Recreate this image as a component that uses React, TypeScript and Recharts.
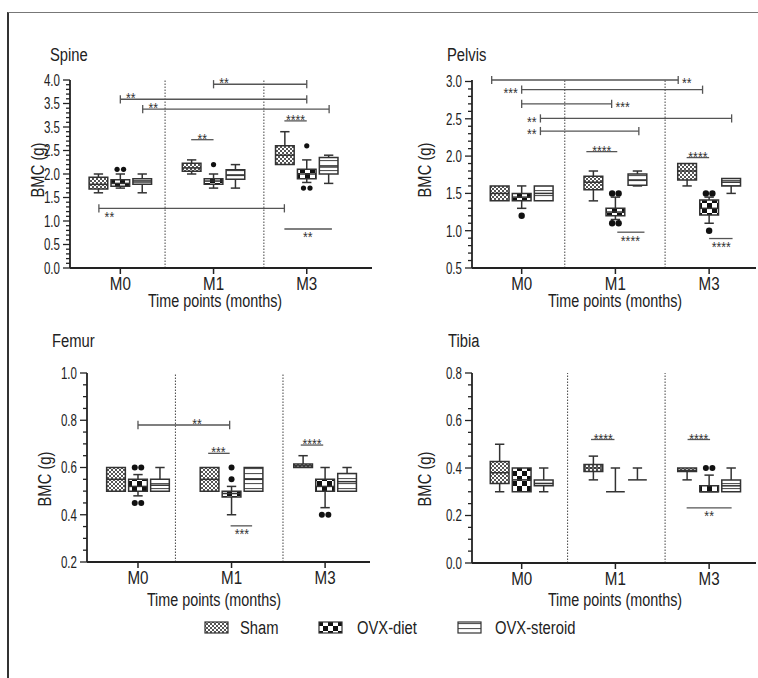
import React from 'react';
import { ComposedChart, XAxis, YAxis, ReferenceArea, ReferenceLine, Scatter } from 'recharts';

const FONT = "'Liberation Sans', Arimo, Arial, sans-serif";
const SX = 0.82; // narrow the glyphs like a condensed face
const INK = '#222';

const timePoints = ['M0', 'M1', 'M3'];
const groups = ['Sham', 'OVX-diet', 'OVX-steroid'];
const patterns = ['url(#pat-sham)', 'url(#pat-diet)', 'url(#pat-steroid)'];

// box stats per time point: [min, q1, median, q3, max]
const spineSham = [[1.6, 1.68, 1.78, 1.93, 2.0], [2.0, 2.06, 2.13, 2.23, 2.3], [2.2, 2.2, 2.4, 2.6, 2.9]];
const spineDiet = [[1.7, 1.74, 1.8, 1.88, 2.0], [1.7, 1.78, 1.85, 1.9, 2.0], [1.82, 1.9, 2.0, 2.1, 2.3]];
const spineSteroid = [[1.6, 1.78, 1.83, 1.9, 2.0], [1.7, 1.89, 1.98, 2.09, 2.2], [1.8, 2.0, 2.15, 2.35, 2.4]];
const spineDietOutliers = [[2.1, 2.1], [2.2], [2.6, 1.7, 1.7]];

const pelvisSham = [[1.4, 1.4, 1.5, 1.6, 1.6], [1.4, 1.55, 1.65, 1.73, 1.8], [1.6, 1.68, 1.8, 1.9, 1.9]];
const pelvisDiet = [[1.3, 1.4, 1.45, 1.5, 1.6], [1.15, 1.2, 1.25, 1.3, 1.45], [1.1, 1.21, 1.3, 1.41, 1.45]];
const pelvisSteroid = [[1.4, 1.4, 1.5, 1.6, 1.6], [1.6, 1.61, 1.68, 1.76, 1.8], [1.5, 1.6, 1.65, 1.7, 1.7]];
const pelvisDietOutliers = [[1.2], [1.5, 1.5, 1.1, 1.1], [1.5, 1.5, 1.0]];

const femurSham = [[0.5, 0.5, 0.55, 0.6, 0.6], [0.5, 0.5, 0.55, 0.6, 0.6], [0.6, 0.6, 0.607, 0.615, 0.65]];
const femurDiet = [[0.48, 0.5, 0.52, 0.55, 0.57], [0.4, 0.475, 0.49, 0.5, 0.52], [0.43, 0.5, 0.52, 0.55, 0.6]];
const femurSteroid = [[0.5, 0.5, 0.525, 0.55, 0.6], [0.5, 0.5, 0.55, 0.6, 0.6], [0.5, 0.5, 0.54, 0.575, 0.6]];
const femurDietOutliers = [[0.6, 0.6, 0.45, 0.45], [0.6, 0.55], [0.4, 0.4]];

const tibiaSham = [[0.3, 0.335, 0.38, 0.427, 0.5], [0.35, 0.385, 0.4, 0.415, 0.45], [0.35, 0.385, 0.39, 0.4, 0.4]];
const tibiaDiet = [[0.3, 0.3, 0.35, 0.4, 0.4], [0.3, 0.3, 0.3, 0.3, 0.4], [0.3, 0.3, 0.3, 0.325, 0.37]];
const tibiaSteroid = [[0.3, 0.325, 0.335, 0.35, 0.4], [0.35, 0.35, 0.35, 0.35, 0.4], [0.3, 0.3, 0.325, 0.35, 0.4]];
const tibiaDietOutliers = [[], [], [0.4, 0.4]];

const none = [[], [], []];

// y axis labels (the spine axis prints 3.0 as "3.5" in the original)
const spineMajors = [0, 0.5, 1, 1.5, 2, 2.5, 3, 3.5, 4];
const spineLabels = ['0.0', '0.5', '1.0', '1.5', '2.0', '2.5', '3.5', '3.5', '4.0'];
const pelvisMajors = [0.5, 1, 1.5, 2, 2.5, 3];
const pelvisLabels = ['0.5', '1.0', '1.5', '2.0', '2.5', '3.0'];
const femurMajors = [0.2, 0.4, 0.6, 0.8, 1.0];
const femurLabels = ['0.2', '0.4', '0.6', '0.8', '1.0'];
const tibiaMajors = [0, 0.2, 0.4, 0.6, 0.8];
const tibiaLabels = ['0.0', '0.2', '0.4', '0.6', '0.8'];

type Bracket = { x1: number; x2: number; y: number; ends: boolean; text: string; lx: number; align: 'start' | 'middle' | 'end'; v: 'above' | 'below' | 'middle' };

const spineBrackets: Bracket[] = [
  { x1: 1.0, x2: 2.0, y: 3.91, ends: true, text: '**', lx: 1.04, align: 'start', v: 'above' },
  { x1: 0, x2: 2.0, y: 3.59, ends: true, text: '**', lx: 0.04, align: 'start', v: 'above' },
  { x1: 0.24, x2: 2.24, y: 3.38, ends: true, text: '**', lx: 0.28, align: 'start', v: 'above' },
  { x1: 1.76, x2: 2.0, y: 3.13, ends: false, text: '****', lx: 1.88, align: 'middle', v: 'above' },
  { x1: 0.76, x2: 1.0, y: 2.73, ends: false, text: '**', lx: 0.88, align: 'middle', v: 'above' },
  { x1: -0.23, x2: 1.76, y: 1.27, ends: true, text: '**', lx: -0.19, align: 'start', v: 'below' },
  { x1: 1.76, x2: 2.27, y: 0.83, ends: false, text: '**', lx: 2.01, align: 'middle', v: 'below' },
];
const pelvisBrackets: Bracket[] = [
  { x1: -0.32, x2: 1.67, y: 3.02, ends: true, text: '**', lx: 1.69, align: 'start', v: 'middle' },
  { x1: 0, x2: 1.93, y: 2.89, ends: true, text: '***', lx: -0.02, align: 'end', v: 'middle' },
  { x1: 0, x2: 0.96, y: 2.7, ends: true, text: '***', lx: 0.98, align: 'start', v: 'middle' },
  { x1: 0.2, x2: 2.24, y: 2.505, ends: true, text: '**', lx: 0.18, align: 'end', v: 'middle' },
  { x1: 0.2, x2: 1.25, y: 2.336, ends: true, text: '**', lx: 0.18, align: 'end', v: 'middle' },
  { x1: 0.69, x2: 1.02, y: 2.06, ends: false, text: '****', lx: 0.855, align: 'middle', v: 'above' },
  { x1: 1.02, x2: 1.31, y: 0.98, ends: false, text: '****', lx: 1.16, align: 'middle', v: 'below' },
  { x1: 1.76, x2: 2.0, y: 1.98, ends: false, text: '****', lx: 1.88, align: 'middle', v: 'above' },
  { x1: 2.0, x2: 2.25, y: 0.895, ends: false, text: '****', lx: 2.13, align: 'middle', v: 'below' },
];
const femurBrackets: Bracket[] = [
  { x1: 0, x2: 0.98, y: 0.78, ends: true, text: '**', lx: 0.63, align: 'middle', v: 'above' },
  { x1: 0.75, x2: 0.98, y: 0.66, ends: false, text: '***', lx: 0.86, align: 'middle', v: 'above' },
  { x1: 0.99, x2: 1.22, y: 0.353, ends: false, text: '***', lx: 1.11, align: 'middle', v: 'below' },
  { x1: 1.74, x2: 1.98, y: 0.695, ends: false, text: '****', lx: 1.86, align: 'middle', v: 'above' },
];
const tibiaBrackets: Bracket[] = [
  { x1: 0.74, x2: 0.99, y: 0.52, ends: false, text: '****', lx: 0.87, align: 'middle', v: 'above' },
  { x1: 1.77, x2: 2.01, y: 0.52, ends: false, text: '****', lx: 1.89, align: 'middle', v: 'above' },
  { x1: 1.76, x2: 2.24, y: 0.232, ends: false, text: '**', lx: 2.0, align: 'middle', v: 'below' },
];

const spineSeps = [0.48, 1.54];
const pelvisSeps = [0.46, 1.53];
const femurSeps = [0.4, 1.55];
const tibiaSeps = [0.49, 1.53];

// box offsets inside a time point group
const OFF = [-0.235, 0, 0.235];
const HALF = 0.1;
const CAP = 0.05;

const makeTicks = (lo: number, hi: number, step: number) => {
  const n = Math.round((hi - lo) / step);
  return Array.from({ length: n + 1 }, (_, i) => +(lo + i * step).toFixed(3));
};

const panels = [
  {
    title: 'Spine', plot: { left: 70, right: 372, top: 80, bottom: 268 }, xDomain: [-0.54, 2.7], yDomain: [0, 4],
    majors: spineMajors, labels: spineLabels, minor: 0.1, boxes: [spineSham, spineDiet, spineSteroid],
    outliers: [none, spineDietOutliers, none], brackets: spineBrackets, seps: spineSeps,
    titleAt: [50, 61], yTitleAt: [38, 170], xTitleAt: [215, 308], dotR: 2.6,
  },
  {
    title: 'Pelvis', plot: { left: 472, right: 756, top: 80, bottom: 268 }, xDomain: [-0.53, 2.5], yDomain: [0.5, 3],
    majors: pelvisMajors, labels: pelvisLabels, minor: 0.1, boxes: [pelvisSham, pelvisDiet, pelvisSteroid],
    outliers: [none, pelvisDietOutliers, none], brackets: pelvisBrackets, seps: pelvisSeps,
    titleAt: [447, 61], yTitleAt: [425, 170], xTitleAt: [615, 308], dotR: 3.2,
  },
  {
    title: 'Femur', plot: { left: 87, right: 370, top: 373, bottom: 562 }, xDomain: [-0.545, 2.48], yDomain: [0.2, 1],
    majors: femurMajors, labels: femurLabels, minor: 0.05, boxes: [femurSham, femurDiet, femurSteroid],
    outliers: [none, femurDietOutliers, none], brackets: femurBrackets, seps: femurSeps,
    titleAt: [52, 347], yTitleAt: [45, 479], xTitleAt: [214, 607], dotR: 3,
  },
  {
    title: 'Tibia', plot: { left: 472, right: 756, top: 373, bottom: 563 }, xDomain: [-0.53, 2.5], yDomain: [0, 0.8],
    majors: tibiaMajors, labels: tibiaLabels, minor: 0.05, boxes: [tibiaSham, tibiaDiet, tibiaSteroid],
    outliers: [none, tibiaDietOutliers, none], brackets: tibiaBrackets, seps: tibiaSeps,
    titleAt: [448, 347], yTitleAt: [425, 479], xTitleAt: [615, 607], dotR: 3,
  },
];

function Patterns() {
  return (
    <svg width={0} height={0} style={{ position: 'absolute' }}>
      <defs>
        <pattern id="pat-sham" width={4} height={4} patternUnits="userSpaceOnUse">
          <rect width={4} height={4} fill="#fff" />
          <rect width={2} height={2} fill="#555" />
          <rect x={2} y={2} width={2} height={2} fill="#555" />
        </pattern>
        <pattern id="pat-diet" width={10} height={10} patternUnits="userSpaceOnUse">
          <rect width={10} height={10} fill="#fff" />
          <rect width={5} height={5} fill="#111" />
          <rect x={5} y={5} width={5} height={5} fill="#111" />
        </pattern>
        <pattern id="pat-steroid" width={5} height={5} patternUnits="userSpaceOnUse">
          <rect width={5} height={5} fill="#fff" />
          <rect y={2} width={5} height={1.1} fill="#555" />
        </pattern>
      </defs>
    </svg>
  );
}

// condensed svg text
function NText({ x, y, anchor, size, fill, dy, sx = SX, children }: any) {
  return (
    <text transform={`translate(${x},${y}) scale(${sx},1)`} textAnchor={anchor} dy={dy} fontSize={size} fill={fill} style={{ fill }} fontFamily={FONT}>
      {children}
    </text>
  );
}

function HText({ x, baseline, size, text, center }: { x: number; baseline: number; size: number; text: string; center?: boolean }) {
  return (
    <div style={{
      position: 'absolute', left: center ? x - 150 : x, top: baseline - 0.86 * size, width: center ? 300 : undefined,
      textAlign: center ? 'center' : 'left', fontSize: size, lineHeight: `${size}px`, fontFamily: FONT, color: INK, whiteSpace: 'nowrap',
      transform: `scaleX(${SX})`, transformOrigin: center ? 'center' : 'left',
    }}>{text}</div>
  );
}

function VText({ cx, cy, size, text }: { cx: number; cy: number; size: number; text: string }) {
  return (
    <div style={{
      position: 'absolute', left: cx - 60, top: cy - size / 2, width: 120, height: size, textAlign: 'center',
      fontSize: size, lineHeight: `${size}px`, fontFamily: FONT, color: INK, transform: `rotate(-90deg) scaleX(${SX})`, whiteSpace: 'nowrap',
    }}>{text}</div>
  );
}

function Panel({ cfg }: { cfg: any }) {
  const { plot, xDomain, yDomain, majors, labels, minor, boxes, outliers, brackets, seps, dotR } = cfg;
  const width = plot.right - plot.left + 62;
  const height = plot.bottom - plot.top + 52;
  const endH = (yDomain[1] - yDomain[0]) * 0.022;
  const yTicks = makeTicks(yDomain[0], yDomain[1], minor);
  const boxLine = { stroke: '#333', strokeWidth: 1.5, ifOverflow: 'visible' as const };
  const brLine = { stroke: '#555', strokeWidth: 1.3, ifOverflow: 'visible' as const };

  const els: React.ReactNode[] = [];
  boxes.forEach((series: number[][], g: number) => series.forEach(([mn, q1, md, q3, mx], t) => {
    const cx = t + OFF[g];
    const k = `b${g}-${t}`;
    if (mn < q1) {
      els.push(<ReferenceLine key={k + 'wl'} segment={[{ x: cx, y: mn }, { x: cx, y: q1 }]} {...boxLine} />);
      els.push(<ReferenceLine key={k + 'cl'} segment={[{ x: cx - CAP, y: mn }, { x: cx + CAP, y: mn }]} {...boxLine} />);
    }
    if (mx > q3) {
      els.push(<ReferenceLine key={k + 'wh'} segment={[{ x: cx, y: q3 }, { x: cx, y: mx }]} {...boxLine} />);
      els.push(<ReferenceLine key={k + 'ch'} segment={[{ x: cx - CAP, y: mx }, { x: cx + CAP, y: mx }]} {...boxLine} />);
    }
    if (q3 > q1) {
      els.push(<ReferenceArea key={k + 'box'} x1={cx - HALF} x2={cx + HALF} y1={q1} y2={q3} fill={patterns[g]} fillOpacity={1} {...boxLine} />);
    }
    els.push(<ReferenceLine key={k + 'md'} segment={[{ x: cx - HALF, y: md }, { x: cx + HALF, y: md }]} {...boxLine} />);
  }));

  brackets.forEach((b: Bracket, i: number) => {
    els.push(<ReferenceLine key={`s${i}`} segment={[{ x: b.x1, y: b.y }, { x: b.x2, y: b.y }]} {...brLine} />);
    if (b.ends) {
      els.push(<ReferenceLine key={`s${i}l`} segment={[{ x: b.x1, y: b.y - endH }, { x: b.x1, y: b.y + endH }]} {...brLine} />);
      els.push(<ReferenceLine key={`s${i}r`} segment={[{ x: b.x2, y: b.y - endH }, { x: b.x2, y: b.y + endH }]} {...brLine} />);
    }
  });

  const dots: any[] = [];
  outliers.forEach((series: number[][], g: number) => series.forEach((vals, t) => {
    const seen: Record<string, number> = {};
    vals.forEach((v) => {
      const n = vals.filter((w) => w === v).length;
      const k = (seen[v] = (seen[v] ?? -1) + 1);
      dots.push({ x: t + OFF[g], y: v, k, n });
    });
  }));

  const stars = brackets.map((b: Bracket) => ({ x: b.lx, y: b.y, text: b.text, align: b.align, v: b.v }));

  const DotShape = (p: any) => (
    <circle cx={p.cx + (p.payload.k - (p.payload.n - 1) / 2) * 6.5} cy={p.cy} r={dotR} fill="#111" />
  );
  const StarShape = (p: any) => {
    const { align, v, text } = p.payload;
    const dy = v === 'above' ? 4 : v === 'below' ? 13.5 : 8.2;
    const dx = align === 'start' ? 2 : align === 'end' ? -2 : 0;
    return <NText x={p.cx + dx} y={p.cy + dy} anchor={align} size={15} fill="#333">{text}</NText>;
  };
  const YTick = (p: any) => {
    const i = majors.findIndex((m: number) => Math.abs(m - p.payload.value) < 1e-6);
    const major = i >= 0;
    return (
      <g>
        <line x1={p.x - (major ? 7 : 4)} x2={p.x} y1={p.y} y2={p.y} stroke={INK} strokeWidth={1.3} />
        {major && <NText x={p.x - 10} y={p.y} dy="0.36em" anchor="end" size={16.5} sx={0.7} fill={INK}>{labels[i]}</NText>}
      </g>
    );
  };
  const XTick = (p: any) => (
    <NText x={p.x} y={p.y} dy="0.71em" anchor="middle" size={18.5} fill={INK}>{timePoints[Math.round(p.payload.value)]}</NText>
  );

  return (
    <div style={{ position: 'absolute', left: plot.left - 60, top: plot.top - 12 }}>
      <ComposedChart width={width} height={height} margin={{ top: 12, right: 2, left: 0, bottom: 5 }}>
        <XAxis
          type="number" dataKey="x" domain={xDomain} ticks={[0, 1, 2]} interval={0}
          height={35} tickSize={6} tickMargin={3}
          axisLine={{ stroke: INK, strokeWidth: 1.8 }} tickLine={{ stroke: INK, strokeWidth: 1.5 }} tick={XTick}
        />
        <YAxis
          type="number" dataKey="y" domain={yDomain} ticks={yTicks} interval={0} width={60}
          tickSize={0} tickMargin={0} tickLine={false} axisLine={{ stroke: INK, strokeWidth: 1.8 }} tick={YTick}
        />
        {seps.map((s: number) => (
          <ReferenceLine key={`sep${s}`} x={s} stroke="#444" strokeWidth={1} strokeDasharray="1.5 1.5" />
        ))}
        {els}
        <Scatter data={dots} shape={DotShape} isAnimationActive={false} />
        <Scatter data={stars} shape={StarShape} isAnimationActive={false} />
      </ComposedChart>
    </div>
  );
}

const legendIconX = [205, 319, 458];
const legendTextX = [240, 357, 495];

export default function App() {
  return (
    <div style={{ position: 'fixed', left: 0, top: 0, width: 758, height: 678, overflow: 'hidden', background: '#fff' }}>
      <Patterns />
      <div style={{ position: 'absolute', left: 7, top: 12, width: 760, height: 680, borderTop: '1.5px solid #777', borderLeft: '2px solid #333' }} />
      {panels.map((p) => (
        <React.Fragment key={p.title}>
          <Panel cfg={p} />
          <HText x={p.titleAt[0]} baseline={p.titleAt[1]} size={18} text={p.title} />
          <VText cx={p.yTitleAt[0]} cy={p.yTitleAt[1]} size={18} text="BMC (g)" />
          <HText x={p.xTitleAt[0]} baseline={p.xTitleAt[1]} size={17.5} text="Time points (months)" center />
        </React.Fragment>
      ))}
      {groups.map((g, i) => (
        <React.Fragment key={g}>
          <svg width={25} height={13} style={{ position: 'absolute', left: legendIconX[i] - 1, top: 621 }}>
            <rect x={1} y={1} width={23} height={11} fill={patterns[i]} stroke="#333" strokeWidth={1.2} />
          </svg>
          <HText x={legendTextX[i]} baseline={634} size={18} text={g} />
        </React.Fragment>
      ))}
    </div>
  );
}
